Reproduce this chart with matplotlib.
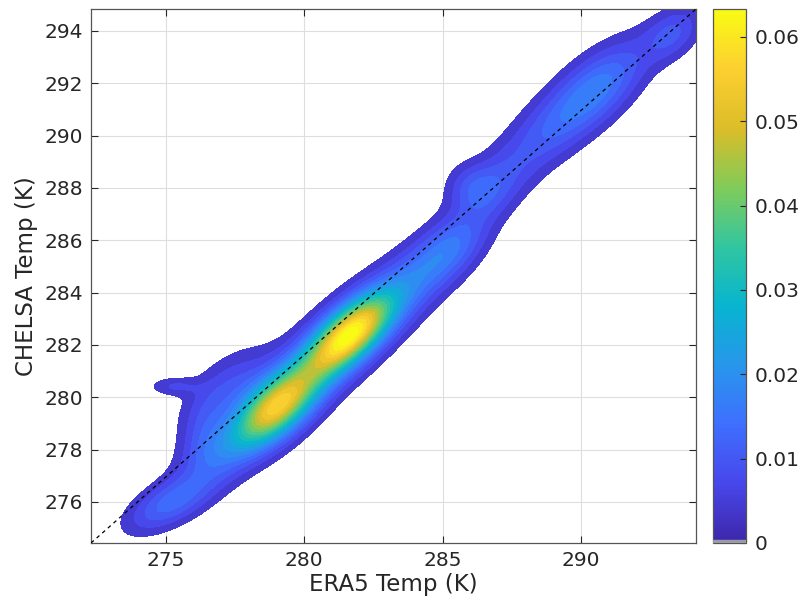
import numpy as np
import matplotlib
matplotlib.use("Agg")
import matplotlib.pyplot as plt
from matplotlib.colors import LinearSegmentedColormap, Normalize
from matplotlib.cm import ScalarMappable

# Axis limits (data range)
x_min, x_max = 272.31, 294.15
y_min, y_max = 274.43, 294.84
x_ticks = [275, 280, 285, 290]
y_ticks = [276, 278, 280, 282, 284, 286, 288, 290, 292, 294]
cbar_ticks = [0, 0.01, 0.02, 0.03, 0.04, 0.05, 0.06]
cbar_labels = ["0", "0.01", "0.02", "0.03", "0.04", "0.05", "0.06"]
cbar_max = 0.0633

# Density field components:
# centre (x, y), spread along / across the axis, axis angle (deg), peak height
comp_x = [279.0, 281.63, 280.2, 277.2, 275.3, 276.35, 276.85, 275.15, 283.78, 285.3, 286.0, 286.7, 288.9, 290.7, 293.3]
comp_y = [279.6, 282.38, 281.0, 280.3, 280.42, 278.6, 277.75, 275.95, 284.23, 285.7, 288.1, 287.9, 290.25, 291.9, 293.9]
comp_sa = [1.3, 1.3, 3.2, 1.3, 0.6, 0.9, 1.13, 1.15, 1.84, 1.13, 0.6, 1.0, 2.1, 1.5, 0.85]
comp_sc = [0.62, 0.58, 0.8, 0.7, 0.24, 0.5, 0.65, 0.52, 0.7, 0.62, 0.6, 0.65, 0.74, 0.72, 0.55]
comp_ang = [45, 45, 45, 45, 0, 80, 45, 30, 45, 45, 45, 45, 45, 45, 45]
comp_h = [0.042, 0.049, 0.016, 0.008, 0.0058, 0.005, 0.006, 0.012, 0.010, 0.010, 0.0055, 0.007, 0.010, 0.012, 0.009]

levels = np.arange(0.003, 0.066, 0.003)

parula_anchors = [
    (0.2422, 0.1504, 0.6603), (0.2803, 0.2782, 0.9221), (0.2440, 0.4358, 0.9988),
    (0.1540, 0.5902, 0.9218), (0.0297, 0.7082, 0.8163), (0.1938, 0.7758, 0.6251),
    (0.5044, 0.7993, 0.3480), (0.8634, 0.7406, 0.1596), (0.9892, 0.8136, 0.1885),
    (0.9769, 0.9839, 0.0805)]
parula = LinearSegmentedColormap.from_list("parula", parula_anchors, N=256)

xg = np.linspace(x_min, x_max, 600)
yg = np.linspace(y_min, y_max, 600)
X, Y = np.meshgrid(xg, yg)
Z = np.zeros_like(X)
for cx, cy, sa, sc, ang, h in zip(comp_x, comp_y, comp_sa, comp_sc, comp_ang, comp_h):
    t = np.deg2rad(ang)
    dx, dy = X - cx, Y - cy
    a = dx * np.cos(t) + dy * np.sin(t)
    c = -dx * np.sin(t) + dy * np.cos(t)
    Z += h * np.exp(-0.5 * ((a / sa) ** 2 + (c / sc) ** 2))

text_col = "#262626"
plt.rcParams["font.family"] = "DejaVu Sans"
fig = plt.figure(figsize=(8.01, 6.09), dpi=100)
ax = fig.add_axes([91 / 801, 66 / 609, 605 / 801, 534 / 609])
norm = Normalize(vmin=0, vmax=cbar_max)

ax.set_axisbelow(True)
ax.grid(True, color="#dedede", linewidth=0.8)
ax.contourf(X, Y, Z, levels=list(levels) + [1.0], cmap=parula, norm=norm, zorder=2)
ax.plot([x_min, x_max], [y_min, y_max], linestyle="--", color="black", linewidth=0.9,
        dashes=(3, 3), zorder=3)

ax.set_xlim(x_min, x_max)
ax.set_ylim(y_min, y_max)
ax.set_xticks(x_ticks)
ax.set_yticks(y_ticks)
ax.tick_params(direction="in", length=5, top=True, right=True, labelsize=14.5,
               colors=text_col, width=0.8, pad=6)
for sp in ax.spines.values():
    sp.set_color("#555555")
    sp.set_linewidth(0.9)
ax.set_xlabel("ERA5 Temp (K)", fontsize=16.5, color=text_col, labelpad=2)
ax.set_ylabel("CHELSA Temp (K)", fontsize=16.5, color=text_col, labelpad=4)

cax = fig.add_axes([713 / 801, 66 / 609, 33 / 801, 534 / 609])
cb = fig.colorbar(ScalarMappable(norm=norm, cmap=parula), cax=cax)
cb.set_ticks(cbar_ticks)
cb.set_ticklabels(cbar_labels)
cax.tick_params(direction="in", length=4, labelsize=14.5, colors=text_col, width=0.8, pad=6)
cb.outline.set_edgecolor("#555555")
cb.outline.set_linewidth(0.9)
cax.axhspan(0, 0.0003, color="#9a9aa8", zorder=3)

fig.savefig("out.png", dpi=100)
